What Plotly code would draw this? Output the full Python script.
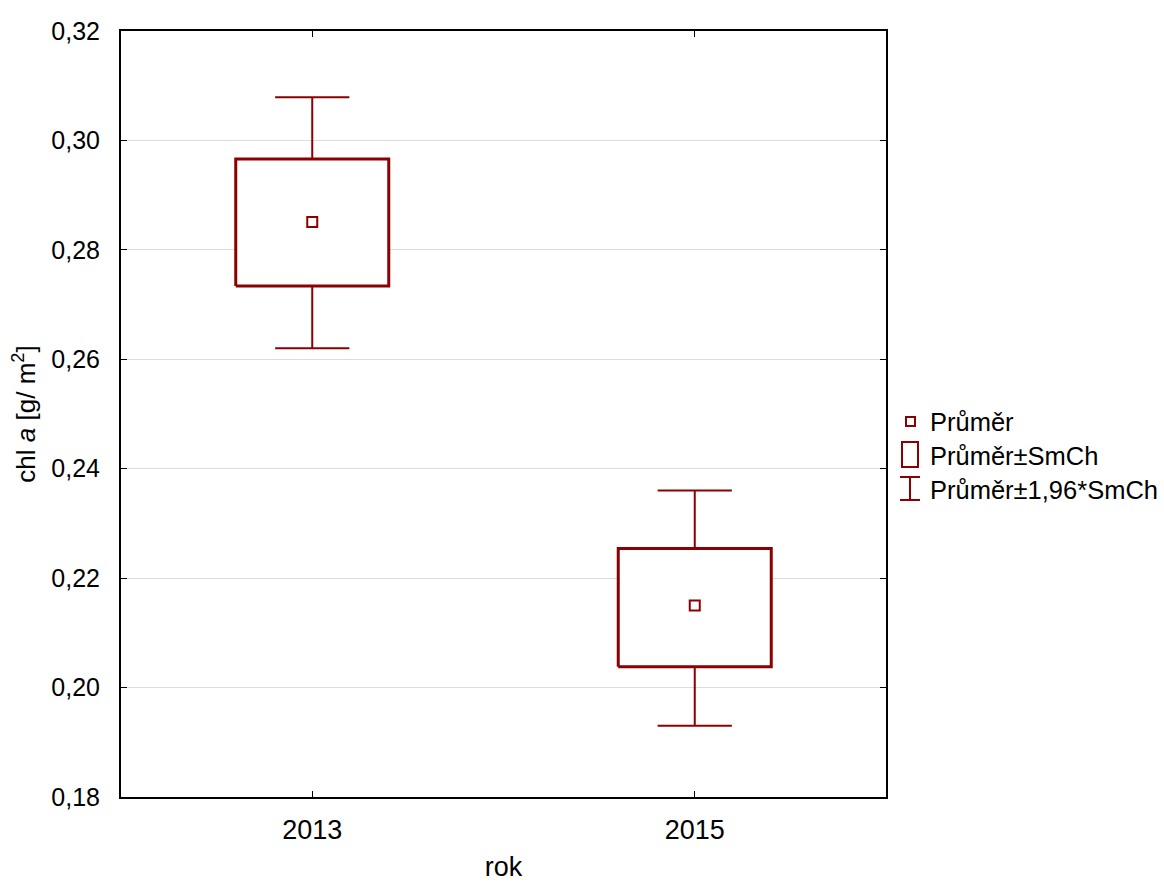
import plotly.graph_objects as go

years = ["2013", "2015"]
mean = [0.2851, 0.2150]
se_low = [0.2734, 0.2038]
se_high = [0.2966, 0.2254]
ci_low = [0.2620, 0.1930]
ci_high = [0.3079, 0.2360]
legend_labels = ["Průměr", "Průměr±SmCh", "Průměr±1,96*SmCh"]

RED = "#8b0000"
FONT = "Liberation Sans, Arial, sans-serif"
W, H = 1164, 882
L, R, T, B = 121, 886, 31, 797

box_half = 0.2
cap_half = 0.097

fig = go.Figure()
for i in range(len(years)):
    # whiskers (upper and lower)
    fig.add_trace(go.Scatter(
        x=[i, i, None, i - cap_half, i + cap_half, None, i, i, None, i - cap_half, i + cap_half],
        y=[se_high[i], ci_high[i], None, ci_high[i], ci_high[i], None,
           se_low[i], ci_low[i], None, ci_low[i], ci_low[i]],
        mode="lines", line=dict(color=RED, width=2), showlegend=False, hoverinfo="skip"))
    # box
    fig.add_trace(go.Scatter(
        x=[i - box_half, i + box_half, i + box_half, i - box_half, i - box_half],
        y=[se_low[i], se_low[i], se_high[i], se_high[i], se_low[i]],
        mode="lines", fill="toself", fillcolor="white",
        line=dict(color=RED, width=3), showlegend=False, hoverinfo="skip"))

fig.add_trace(go.Scatter(
    x=list(range(len(years))), y=mean, mode="markers",
    marker=dict(symbol="square-open", size=10, color=RED, line=dict(width=2, color=RED)),
    showlegend=False))

def px(x):
    return (x - L) / (R - L)

def py(y):
    return (B - y) / (B - T)

shapes = [
    dict(type="rect", xref="paper", yref="paper", x0=px(906), x1=px(915), y0=py(426), y1=py(417),
         line=dict(color=RED, width=2)),
    dict(type="rect", xref="paper", yref="paper", x0=px(902), x1=px(918), y0=py(467), y1=py(442),
         line=dict(color=RED, width=2)),
    dict(type="line", xref="paper", yref="paper", x0=px(910), x1=px(910), y0=py(500), y1=py(477),
         line=dict(color=RED, width=2)),
    dict(type="line", xref="paper", yref="paper", x0=px(900), x1=px(920), y0=py(477), y1=py(477),
         line=dict(color=RED, width=2)),
    dict(type="line", xref="paper", yref="paper", x0=px(900), x1=px(920), y0=py(500), y1=py(500),
         line=dict(color=RED, width=2)),
]
annotations = []
for lab, yc in zip(legend_labels, [422, 456, 490]):
    annotations.append(dict(x=px(928), y=py(yc), xref="paper", yref="paper", text=lab,
                            showarrow=False, xanchor="left", yanchor="middle",
                            font=dict(family=FONT, size=25.5, color="black")))

fig.update_layout(
    width=W, height=H,
    margin=dict(l=L, r=W - R, t=T, b=H - B, autoexpand=False),
    paper_bgcolor="white", plot_bgcolor="white",
    separators=", ",
    font=dict(family=FONT, size=25, color="black"),
    shapes=shapes, annotations=annotations, showlegend=False,
    xaxis=dict(range=[-0.5, 1.5], tickvals=list(range(len(years))), ticktext=years,
               showgrid=False, zeroline=False, showline=True, linecolor="black", linewidth=2,
               mirror="allticks", ticks="inside", ticklen=6, tickcolor="black",
               ticklabelstandoff=8, automargin=False, tickfont=dict(size=27),
               title=dict(text="rok", standoff=35, font=dict(size=27))),
    yaxis=dict(range=[0.18, 0.32], dtick=0.02, tickformat=".2f",
               showgrid=True, gridcolor="#dcdcdc", gridwidth=1, zeroline=False,
               showline=True, linecolor="black", linewidth=2,
               mirror="allticks", ticks="inside", ticklen=6, tickcolor="black",
               ticklabelstandoff=14, automargin=False, tickfont=dict(size=25),
               title=dict(text="chl <i>a</i> [g/ m<sup>2</sup>]", standoff=8, font=dict(size=26))),
)

fig.write_html("out.html")
